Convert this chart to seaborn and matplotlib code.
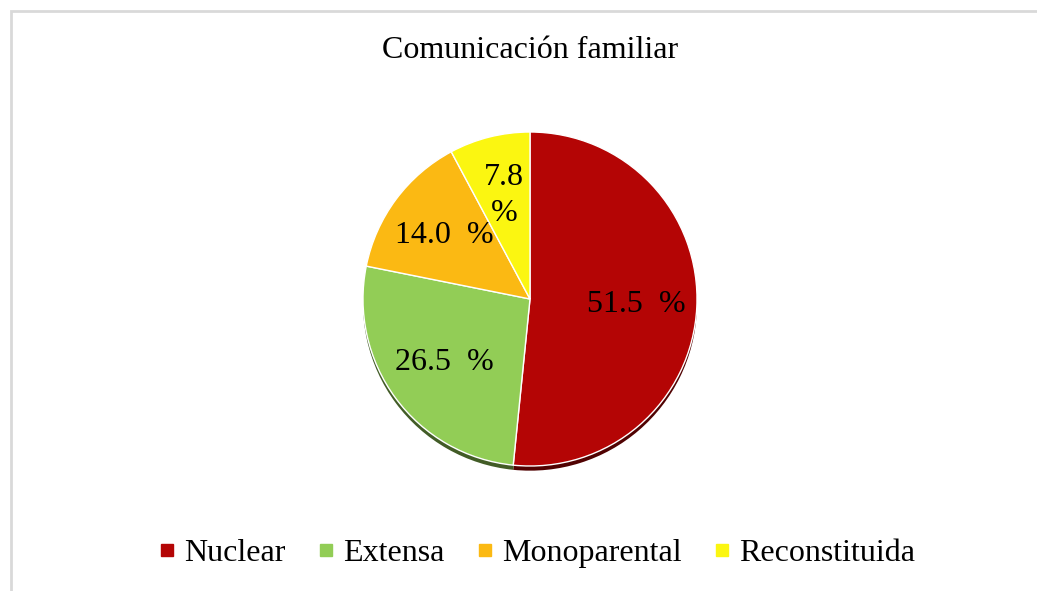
import numpy as np
import pandas as pd
import matplotlib as mplt
import matplotlib.pyplot as plt
import matplotlib.colors as mcolors
from matplotlib.lines import Line2D
from matplotlib.patches import Rectangle
import seaborn as sns

sns.set_theme(style='white')
mplt.rcParams['font.family'] = ['Liberation Serif', 'DejaVu Serif']
mplt.rcParams['text.color'] = 'black'
font_size = 23

# Data
categories = ['Nuclear', 'Extensa', 'Monoparental', 'Reconstituida']
percents = [51.5, 26.5, 14.0, 7.8]
pct_labels = ['51.5  %', '26.5  %', '14.0  %', '7.8\n%']
colors = ['#b40505', '#92cd56', '#fbb913', '#fbf611']
title = 'Comunicación familiar'

df = pd.DataFrame({'tipo': categories, 'pct': percents, 'label': pct_labels, 'color': colors})

W, H = 1037, 591
fig = plt.figure(figsize=(W / 100, H / 100), dpi=100)

# chart frame (only top/left edges visible in the original)
fig.patches.append(Rectangle((11 / W, -0.1), 1.2, 1 - 11 / H + 0.1, transform=fig.transFigure,
                             fill=False, edgecolor='#d9d9d9', linewidth=2, zorder=0))

# pie axes: centre ~ (530, 299) px, radius ~167 px
r_px = 167
lim = 1.1
cx, cy = 530, 299
ax = fig.add_axes([(cx - r_px * lim) / W, (H - cy - r_px * lim) / H, 2 * r_px * lim / W, 2 * r_px * lim / H])

# shadow underneath
shadow_cols = [tuple(np.array(mcolors.to_rgb(c)) * 0.45) for c in df['color']]
ax.pie(df['pct'], colors=shadow_cols, startangle=90, counterclock=False, center=(0.0, -0.028),
       wedgeprops=dict(linewidth=0))
wedges, _ = ax.pie(df['pct'], colors=df['color'], startangle=90, counterclock=False,
                   wedgeprops=dict(edgecolor='white', linewidth=1))

for w, lab in zip(wedges, df['label']):
    ang = np.deg2rad((w.theta1 + w.theta2) / 2)
    d = 0.64
    ax.text(d * np.cos(ang), d * np.sin(ang), lab, ha='center', va='center',
            fontsize=font_size, color='black', linespacing=1.3)

ax.set_xlim(-lim, lim)
ax.set_ylim(-lim, lim)
ax.set_aspect('equal')
ax.axis('off')

fig.text(cx / W, 1 - 50 / H, title, ha='center', va='center', fontsize=font_size, color='black')

handles = [Line2D([], [], marker='s', linestyle='none', markersize=8, color=c) for c in df['color']]
leg = fig.legend(handles, df['tipo'], loc='center', bbox_to_anchor=(537 / W, 1 - 553 / H), ncol=4,
                 frameon=False, fontsize=font_size, handlelength=0.5, handletextpad=0.3, columnspacing=1.0)
for t in leg.get_texts():
    t.set_color('black')

fig.savefig('out.png', dpi=100, facecolor='white')
